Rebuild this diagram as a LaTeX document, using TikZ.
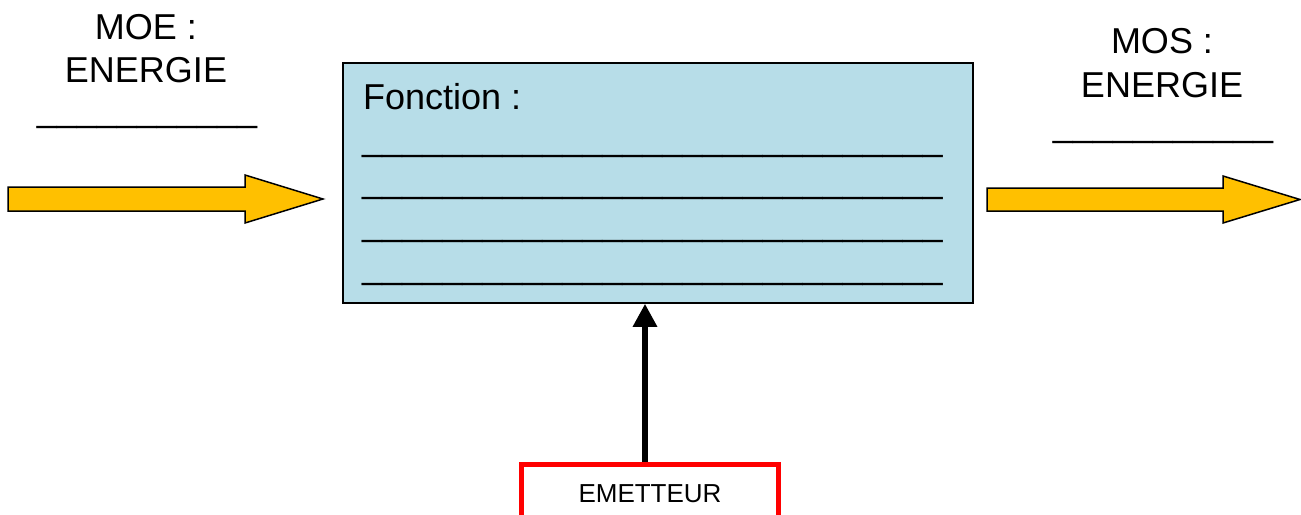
\documentclass[tikz,border=0pt]{standalone}
\usepackage{fontspec}
\setmainfont{Liberation Sans}
\usetikzlibrary{arrows.meta}
\definecolor{boxblue}{HTML}{B7DDE8}
\definecolor{arroworange}{HTML}{FFC000}
\definecolor{emred}{HTML}{FF0000}
\tikzset{
  big/.style={font=\fontsize{36}{41}\selectfont, inner sep=0pt, anchor=base},
  small/.style={font=\fontsize{26}{30}\selectfont, inner sep=0pt, anchor=base},
  fatarrow/.style={fill=arroworange, draw=black, line width=1.5pt, line join=miter},
  mainbox/.style={draw=black, fill=boxblue, line width=1.5pt, minimum width=630pt, minimum height=240pt, inner sep=0pt},
  embox/.style={draw=emred, line width=5pt, minimum width=257pt, minimum height=80pt, inner sep=0pt},
  blackarrow/.style={line width=6.5pt, -{Triangle[width=23pt,length=23pt]}}
}
\begin{document}
\begin{tikzpicture}[x=1pt,y=-1pt]
\useasboundingbox (0,0) rectangle (1301,514);
% left orange arrow
\draw[fatarrow] (8,187) -- (245,187) -- (245,175) -- (323,199) -- (245,223) -- (245,211) -- (8,211) -- cycle;
% right orange arrow
\draw[fatarrow] (987,188) -- (1223,188) -- (1223,176) -- (1300,199.5) -- (1223,223) -- (1223,211) -- (987,211) -- cycle;
% main box
\node[mainbox] (fonc) at (658,183) {};
\node[big, anchor=base west] (ftitle) at (363,109) {Fonction :};
\node[big, anchor=base west] (l1) at (362,150) {\_\_\_\_\_\_\_\_\_\_\_\_\_\_\_\_\_\_\_\_\_\_\_\_\_\_\_\_\_};
\node[big, anchor=base west] (l2) at (362,192) {\_\_\_\_\_\_\_\_\_\_\_\_\_\_\_\_\_\_\_\_\_\_\_\_\_\_\_\_\_};
\node[big, anchor=base west] (l3) at (362,235) {\_\_\_\_\_\_\_\_\_\_\_\_\_\_\_\_\_\_\_\_\_\_\_\_\_\_\_\_\_};
\node[big, anchor=base west] (l4) at (362,278) {\_\_\_\_\_\_\_\_\_\_\_\_\_\_\_\_\_\_\_\_\_\_\_\_\_\_\_\_\_};
% left labels
\node[big] (moe) at (146,39) {MOE :};
\node[big] (moeen) at (146,82) {ENERGIE};
\node[big] (moel) at (147,121) {\_\_\_\_\_\_\_\_\_\_\_};
% right labels
\node[big] (mos) at (1162,53) {MOS :};
\node[big] (mosen) at (1162,97) {ENERGIE};
\node[big] (mosl) at (1163,136) {\_\_\_\_\_\_\_\_\_\_\_};
% emetteur
\node[embox] (emet) at (649.5,504.5) {};
\node[small] (emettxt) at (650,502) {EMETTEUR};
\draw[blackarrow] (emet.north -| 645,0) -- (fonc.south -| 645,0);
\end{tikzpicture}
\end{document}
